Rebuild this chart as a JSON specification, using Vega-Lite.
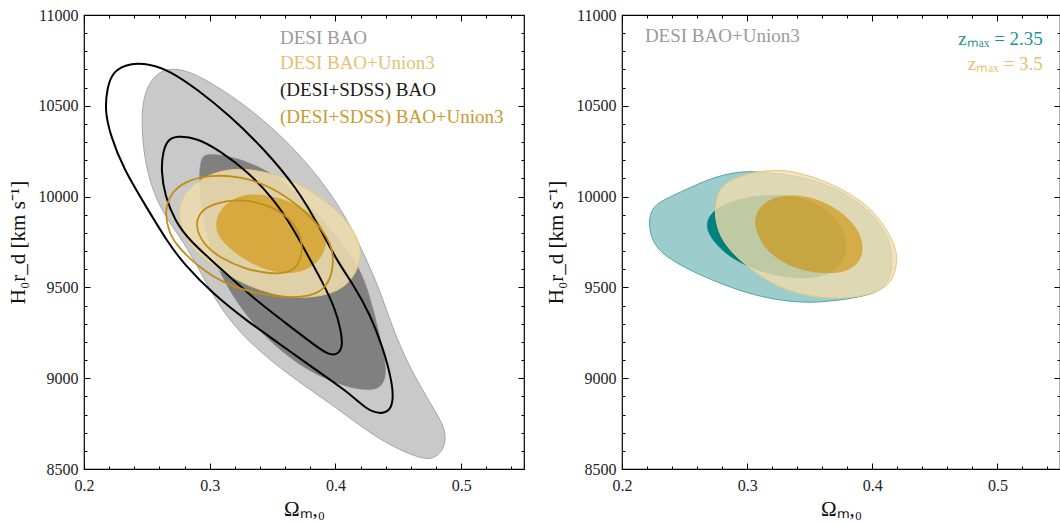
{
  "$schema": "https://vega.github.io/schema/vega-lite/v6.json",
  "background": "white",
  "padding": {"left": 6, "top": 6, "right": 2, "bottom": 0},
  "spacing": 18,
  "config": {
    "font": "Liberation Serif",
    "view": {"stroke": "#000", "strokeWidth": 1.2},
    "axis": {"domain": false, "grid": false, "labelFlush": false, "labelOverlap": false, "labelBound": false, "tickColor": "#000", "tickWidth": 1, "labelFont": "Liberation Serif", "titleFont": "Liberation Serif", "labelFontSize": 16, "titleFontSize": 21, "titleFontWeight": "normal", "labelColor": "#222", "titleColor": "#111"}
  },
  "datasets": {
    "left": [
      {"s":"A","i":0,"x":0.2684,"y":10708},{"s":"A","i":1,"x":0.2843,"y":10692},{"s":"A","i":2,"x":0.3082,"y":10598},{"s":"A","i":3,"x":0.3344,"y":10471},{"s":"A","i":4,"x":0.3615,"y":10306},{"s":"A","i":5,"x":0.3877,"y":10102},{"s":"A","i":6,"x":0.4092,"y":9882},{"s":"A","i":7,"x":0.4251,"y":9645},{"s":"A","i":8,"x":0.4347,"y":9497},{"s":"A","i":9,"x":0.4490,"y":9205},{"s":"A","i":10,"x":0.4649,"y":8984},{"s":"A","i":11,"x":0.4808,"y":8803},{"s":"A","i":12,"x":0.4880,"y":8709},{"s":"A","i":13,"x":0.4870,"y":8615},{"s":"A","i":14,"x":0.4790,"y":8555},{"s":"A","i":15,"x":0.4673,"y":8555},{"s":"A","i":16,"x":0.4355,"y":8654},{"s":"A","i":17,"x":0.4013,"y":8836},{"s":"A","i":18,"x":0.3615,"y":9023},{"s":"A","i":19,"x":0.3297,"y":9205},{"s":"A","i":20,"x":0.3082,"y":9386},{"s":"A","i":21,"x":0.2935,"y":9574},{"s":"A","i":22,"x":0.2790,"y":9755},{"s":"A","i":23,"x":0.2640,"y":9893},{"s":"A","i":24,"x":0.2530,"y":10058},{"s":"A","i":25,"x":0.2470,"y":10251},{"s":"A","i":26,"x":0.2455,"y":10471},{"s":"A","i":27,"x":0.2495,"y":10600},{"s":"A","i":28,"x":0.2581,"y":10680},
      {"s":"B","i":0,"x":0.2963,"y":10240},{"s":"B","i":1,"x":0.3162,"y":10224},{"s":"B","i":2,"x":0.3400,"y":10168},{"s":"B","i":3,"x":0.3639,"y":10058},{"s":"B","i":4,"x":0.3877,"y":9893},{"s":"B","i":5,"x":0.4076,"y":9728},{"s":"B","i":6,"x":0.4220,"y":9574},{"s":"B","i":7,"x":0.4299,"y":9386},{"s":"B","i":8,"x":0.4363,"y":9205},{"s":"B","i":9,"x":0.4403,"y":9067},{"s":"B","i":10,"x":0.4395,"y":8984},{"s":"B","i":11,"x":0.4339,"y":8940},{"s":"B","i":12,"x":0.4236,"y":8935},{"s":"B","i":13,"x":0.4092,"y":8951},{"s":"B","i":14,"x":0.3822,"y":9023},{"s":"B","i":15,"x":0.3559,"y":9150},{"s":"B","i":16,"x":0.3344,"y":9298},{"s":"B","i":17,"x":0.3162,"y":9469},{"s":"B","i":18,"x":0.3018,"y":9673},{"s":"B","i":19,"x":0.2939,"y":9893},{"s":"B","i":20,"x":0.2915,"y":10086},{"s":"B","i":21,"x":0.2925,"y":10200},
      {"s":"C","i":0,"x":0.2366,"y":10736},{"s":"C","i":1,"x":0.2525,"y":10730},{"s":"C","i":2,"x":0.2684,"y":10692},{"s":"C","i":3,"x":0.2899,"y":10592},{"s":"C","i":4,"x":0.3162,"y":10444},{"s":"C","i":5,"x":0.3424,"y":10268},{"s":"C","i":6,"x":0.3695,"y":10047},{"s":"C","i":7,"x":0.3877,"y":9827},{"s":"C","i":8,"x":0.4013,"y":9645},{"s":"C","i":9,"x":0.4140,"y":9519},{"s":"C","i":10,"x":0.4275,"y":9353},{"s":"C","i":11,"x":0.4379,"y":9166},{"s":"C","i":12,"x":0.4450,"y":8984},{"s":"C","i":13,"x":0.4462,"y":8874},{"s":"C","i":14,"x":0.4425,"y":8815},{"s":"C","i":15,"x":0.4355,"y":8805},{"s":"C","i":16,"x":0.4260,"y":8820},{"s":"C","i":17,"x":0.4092,"y":8929},{"s":"C","i":18,"x":0.3822,"y":9056},{"s":"C","i":19,"x":0.3559,"y":9188},{"s":"C","i":20,"x":0.3297,"y":9315},{"s":"C","i":21,"x":0.3026,"y":9464},{"s":"C","i":22,"x":0.2788,"y":9634},{"s":"C","i":23,"x":0.2660,"y":9755},{"s":"C","i":24,"x":0.2501,"y":9937},{"s":"C","i":25,"x":0.2310,"y":10157},{"s":"C","i":26,"x":0.2207,"y":10345},{"s":"C","i":27,"x":0.2167,"y":10471},{"s":"C","i":28,"x":0.2183,"y":10598},{"s":"C","i":29,"x":0.2231,"y":10692},
      {"s":"D","i":0,"x":0.2740,"y":10334},{"s":"D","i":1,"x":0.2899,"y":10323},{"s":"D","i":2,"x":0.3082,"y":10251},{"s":"D","i":3,"x":0.3297,"y":10141},{"s":"D","i":4,"x":0.3504,"y":9992},{"s":"D","i":5,"x":0.3663,"y":9827},{"s":"D","i":6,"x":0.3782,"y":9673},{"s":"D","i":7,"x":0.3893,"y":9535},{"s":"D","i":8,"x":0.3997,"y":9386},{"s":"D","i":9,"x":0.4045,"y":9260},{"s":"D","i":10,"x":0.4058,"y":9180},{"s":"D","i":11,"x":0.4025,"y":9132},{"s":"D","i":12,"x":0.3950,"y":9125},{"s":"D","i":13,"x":0.3822,"y":9188},{"s":"D","i":14,"x":0.3615,"y":9298},{"s":"D","i":15,"x":0.3344,"y":9442},{"s":"D","i":16,"x":0.3082,"y":9607},{"s":"D","i":17,"x":0.2843,"y":9755},{"s":"D","i":18,"x":0.2724,"y":9866},{"s":"D","i":19,"x":0.2644,"y":10003},{"s":"D","i":20,"x":0.2613,"y":10141},{"s":"D","i":21,"x":0.2628,"y":10251},{"s":"D","i":22,"x":0.2668,"y":10315},
      {"s":"E","i":0,"x":0.2740,"y":9921},{"s":"E","i":1,"x":0.2804,"y":10031},{"s":"E","i":2,"x":0.2963,"y":10113},{"s":"E","i":3,"x":0.3138,"y":10152},{"s":"E","i":4,"x":0.3360,"y":10152},{"s":"E","i":5,"x":0.3639,"y":10097},{"s":"E","i":6,"x":0.3877,"y":10003},{"s":"E","i":7,"x":0.4076,"y":9882},{"s":"E","i":8,"x":0.4180,"y":9772},{"s":"E","i":9,"x":0.4212,"y":9673},{"s":"E","i":10,"x":0.4156,"y":9563},{"s":"E","i":11,"x":0.4037,"y":9480},{"s":"E","i":12,"x":0.3822,"y":9442},{"s":"E","i":13,"x":0.3599,"y":9447},{"s":"E","i":14,"x":0.3360,"y":9491},{"s":"E","i":15,"x":0.3122,"y":9574},{"s":"E","i":16,"x":0.2923,"y":9673},{"s":"E","i":17,"x":0.2788,"y":9783},
      {"s":"F","i":0,"x":0.3042,"y":9855},{"s":"F","i":1,"x":0.3098,"y":9948},{"s":"F","i":2,"x":0.3241,"y":10009},{"s":"F","i":3,"x":0.3416,"y":10014},{"s":"F","i":4,"x":0.3639,"y":9976},{"s":"F","i":5,"x":0.3814,"y":9904},{"s":"F","i":6,"x":0.3917,"y":9811},{"s":"F","i":7,"x":0.3933,"y":9728},{"s":"F","i":8,"x":0.3862,"y":9634},{"s":"F","i":9,"x":0.3718,"y":9579},{"s":"F","i":10,"x":0.3520,"y":9579},{"s":"F","i":11,"x":0.3321,"y":9634},{"s":"F","i":12,"x":0.3162,"y":9711},{"s":"F","i":13,"x":0.3066,"y":9783},
      {"s":"G","i":0,"x":0.2644,"y":9921},{"s":"G","i":1,"x":0.2668,"y":9822},{"s":"G","i":2,"x":0.2724,"y":9739},{"s":"G","i":3,"x":0.2899,"y":9618},{"s":"G","i":4,"x":0.3162,"y":9497},{"s":"G","i":5,"x":0.3559,"y":9442},{"s":"G","i":6,"x":0.3798,"y":9447},{"s":"G","i":7,"x":0.3933,"y":9497},{"s":"G","i":8,"x":0.3989,"y":9618},{"s":"G","i":9,"x":0.3973,"y":9728},{"s":"G","i":10,"x":0.3893,"y":9822},{"s":"G","i":11,"x":0.3718,"y":9948},{"s":"G","i":12,"x":0.3480,"y":10058},{"s":"G","i":13,"x":0.3241,"y":10113},{"s":"G","i":14,"x":0.3002,"y":10119},{"s":"G","i":15,"x":0.2804,"y":10086},{"s":"G","i":16,"x":0.2684,"y":10014},
      {"s":"H","i":0,"x":0.2883,"y":9838},{"s":"H","i":1,"x":0.2923,"y":9921},{"s":"H","i":2,"x":0.3042,"y":9965},{"s":"H","i":3,"x":0.3241,"y":9987},{"s":"H","i":4,"x":0.3440,"y":9959},{"s":"H","i":5,"x":0.3599,"y":9904},{"s":"H","i":6,"x":0.3702,"y":9822},{"s":"H","i":7,"x":0.3742,"y":9728},{"s":"H","i":8,"x":0.3718,"y":9634},{"s":"H","i":9,"x":0.3639,"y":9579},{"s":"H","i":10,"x":0.3480,"y":9574},{"s":"H","i":11,"x":0.3281,"y":9601},{"s":"H","i":12,"x":0.3082,"y":9662},{"s":"H","i":13,"x":0.2947,"y":9739}
    ],
    "leftText": [
      {"x":0.3559,"y":10873,"t":"DESI BAO"},
      {"x":0.3559,"y":10736,"t":"DESI BAO+Union3"},
      {"x":0.3559,"y":10587,"t":"(DESI+SDSS) BAO"},
      {"x":0.3559,"y":10438,"t":"(DESI+SDSS) BAO+Union3"}
    ],
    "right": [
      {"s":"P","i":0,"x":0.2215,"y":9855},{"s":"P","i":1,"x":0.2231,"y":9921},{"s":"P","i":2,"x":0.2286,"y":9965},{"s":"P","i":3,"x":0.2397,"y":10003},{"s":"P","i":4,"x":0.2556,"y":10053},{"s":"P","i":5,"x":0.2755,"y":10113},{"s":"P","i":6,"x":0.2970,"y":10141},{"s":"P","i":7,"x":0.3113,"y":10135},{"s":"P","i":8,"x":0.3351,"y":10119},{"s":"P","i":9,"x":0.3550,"y":10086},{"s":"P","i":10,"x":0.3749,"y":10031},{"s":"P","i":11,"x":0.3908,"y":9959},{"s":"P","i":12,"x":0.4051,"y":9866},{"s":"P","i":13,"x":0.4138,"y":9755},{"s":"P","i":14,"x":0.4162,"y":9656},{"s":"P","i":15,"x":0.4146,"y":9546},{"s":"P","i":16,"x":0.4067,"y":9480},{"s":"P","i":17,"x":0.3908,"y":9447},{"s":"P","i":18,"x":0.3685,"y":9425},{"s":"P","i":19,"x":0.3471,"y":9414},{"s":"P","i":20,"x":0.3232,"y":9431},{"s":"P","i":21,"x":0.2994,"y":9469},{"s":"P","i":22,"x":0.2755,"y":9530},{"s":"P","i":23,"x":0.2556,"y":9590},{"s":"P","i":24,"x":0.2382,"y":9656},{"s":"P","i":25,"x":0.2286,"y":9711},{"s":"P","i":26,"x":0.2231,"y":9778},
      {"s":"Q","i":0,"x":0.2660,"y":9822},{"s":"Q","i":1,"x":0.2700,"y":9904},{"s":"Q","i":2,"x":0.2811,"y":9959},{"s":"Q","i":3,"x":0.2994,"y":9998},{"s":"Q","i":4,"x":0.3232,"y":10014},{"s":"Q","i":5,"x":0.3471,"y":9992},{"s":"Q","i":6,"x":0.3653,"y":9921},{"s":"Q","i":7,"x":0.3773,"y":9822},{"s":"Q","i":8,"x":0.3804,"y":9711},{"s":"Q","i":9,"x":0.3749,"y":9612},{"s":"Q","i":10,"x":0.3606,"y":9557},{"s":"Q","i":11,"x":0.3391,"y":9546},{"s":"Q","i":12,"x":0.3153,"y":9574},{"s":"Q","i":13,"x":0.2938,"y":9634},{"s":"Q","i":14,"x":0.2779,"y":9711},
      {"s":"R","i":0,"x":0.2739,"y":9904},{"s":"R","i":1,"x":0.2755,"y":10014},{"s":"R","i":2,"x":0.2835,"y":10086},{"s":"R","i":3,"x":0.3017,"y":10130},{"s":"R","i":4,"x":0.3232,"y":10152},{"s":"R","i":5,"x":0.3447,"y":10130},{"s":"R","i":6,"x":0.3765,"y":10047},{"s":"R","i":7,"x":0.4027,"y":9921},{"s":"R","i":8,"x":0.4186,"y":9739},{"s":"R","i":9,"x":0.4202,"y":9645},{"s":"R","i":10,"x":0.4170,"y":9546},{"s":"R","i":11,"x":0.4083,"y":9486},{"s":"R","i":12,"x":0.3908,"y":9447},{"s":"R","i":13,"x":0.3669,"y":9436},{"s":"R","i":14,"x":0.3431,"y":9458},{"s":"R","i":15,"x":0.3192,"y":9519},{"s":"R","i":16,"x":0.2994,"y":9618},{"s":"R","i":17,"x":0.2851,"y":9711},{"s":"R","i":18,"x":0.2771,"y":9800},
      {"s":"S","i":0,"x":0.3049,"y":9855},{"s":"S","i":1,"x":0.3089,"y":9937},{"s":"S","i":2,"x":0.3192,"y":9992},{"s":"S","i":3,"x":0.3351,"y":10014},{"s":"S","i":4,"x":0.3550,"y":9992},{"s":"S","i":5,"x":0.3749,"y":9921},{"s":"S","i":6,"x":0.3884,"y":9827},{"s":"S","i":7,"x":0.3932,"y":9728},{"s":"S","i":8,"x":0.3908,"y":9645},{"s":"S","i":9,"x":0.3812,"y":9590},{"s":"S","i":10,"x":0.3653,"y":9574},{"s":"S","i":11,"x":0.3431,"y":9590},{"s":"S","i":12,"x":0.3232,"y":9656},{"s":"S","i":13,"x":0.3113,"y":9739}
    ],
    "rightTextL": [
      {"x":0.2183,"y":10884,"t":"DESI BAO+Union3"}
    ],
    "rightTextR": [
      {"x":0.5363,"y":10868,"t":"zₘₐₓ = 2.35"},
      {"x":0.5363,"y":10730,"t":"zₘₐₓ = 3.5"}
    ]
  },
  "hconcat": [
    {
      "width": 440,
      "height": 454,
      "data": {"name": "left"},
      "resolve": {"axis": {"x": "independent", "y": "independent"}},
      "layer": [
        {
          "transform": [{"filter": "datum.s == 'A'"}],
          "mark": {"type": "line", "interpolate": "basis-closed", "fill": "#c9c9c9", "stroke": "#a6a6a6", "strokeWidth": 1, "clip": true},
          "encoding": {
            "x": {"field": "x", "type": "quantitative", "scale": {"domain": [0.2, 0.55], "nice": false, "zero": false}, "axis": {"orient": "bottom", "values": [0.2, 0.3, 0.4, 0.5], "format": ".1f", "ticks": false, "tickSize": 0, "labelPadding": 8, "title": "Ωₘ,₀", "titlePadding": 5}},
            "y": {"field": "y", "type": "quantitative", "scale": {"domain": [8500, 11000], "nice": false, "zero": false}, "axis": {"orient": "left", "values": [8500, 9000, 9500, 10000, 10500, 11000], "format": "d", "ticks": false, "tickSize": 0, "labelPadding": 6, "title": "H₀r_d [km s⁻¹]", "titlePadding": 10}},
            "order": {"field": "i", "type": "quantitative"}
          }
        },
        {
          "transform": [{"filter": "datum.s == 'B'"}],
          "mark": {"type": "line", "interpolate": "basis-closed", "fill": "#808080", "stroke": "#808080", "strokeWidth": 0.5, "clip": true},
          "encoding": {
            "x": {"field": "x", "type": "quantitative", "scale": {"domain": [0.2, 0.55], "nice": false, "zero": false}, "axis": {"orient": "bottom", "values": [0.2, 0.3, 0.4, 0.5], "labels": false, "tickSize": -6, "title": null}},
            "y": {"field": "y", "type": "quantitative", "scale": {"domain": [8500, 11000], "nice": false, "zero": false}, "axis": {"orient": "left", "values": [8500, 9000, 9500, 10000, 10500, 11000], "labels": false, "tickSize": -6, "title": null}},
            "order": {"field": "i", "type": "quantitative"}
          }
        },
        {
          "transform": [{"filter": "datum.s == 'E'"}],
          "mark": {"type": "line", "interpolate": "basis-closed", "fill": "#eddbac", "fillOpacity": 0.87, "stroke": "#e9c87c", "strokeWidth": 1, "clip": true},
          "encoding": {
            "x": {"field": "x", "type": "quantitative", "scale": {"domain": [0.2, 0.55], "nice": false, "zero": false}, "axis": {"orient": "bottom", "values": [0.22, 0.24, 0.26, 0.28, 0.32, 0.34, 0.36, 0.38, 0.42, 0.44, 0.46, 0.48, 0.52, 0.54], "labels": false, "tickSize": -3, "title": null}},
            "y": {"field": "y", "type": "quantitative", "scale": {"domain": [8500, 11000], "nice": false, "zero": false}, "axis": {"orient": "left", "values": [8600, 8700, 8800, 8900, 9100, 9200, 9300, 9400, 9600, 9700, 9800, 9900, 10100, 10200, 10300, 10400, 10600, 10700, 10800, 10900], "labels": false, "tickSize": -3, "title": null}},
            "order": {"field": "i", "type": "quantitative"}
          }
        },
        {
          "transform": [{"filter": "datum.s == 'F'"}],
          "mark": {"type": "line", "interpolate": "basis-closed", "fill": "#d6a535", "fillOpacity": 0.9, "stroke": "#d6a535", "strokeWidth": 0.5, "clip": true},
          "encoding": {
            "x": {"field": "x", "type": "quantitative", "scale": {"domain": [0.2, 0.55], "nice": false, "zero": false}, "axis": {"orient": "top", "values": [0.2, 0.3, 0.4, 0.5], "labels": false, "tickSize": -6, "title": null}},
            "y": {"field": "y", "type": "quantitative", "scale": {"domain": [8500, 11000], "nice": false, "zero": false}, "axis": {"orient": "right", "values": [8500, 9000, 9500, 10000, 10500, 11000], "labels": false, "tickSize": -6, "title": null}},
            "order": {"field": "i", "type": "quantitative"}
          }
        },
        {
          "transform": [{"filter": "datum.s == 'C'"}],
          "mark": {"type": "line", "interpolate": "basis-closed", "stroke": "#000", "strokeWidth": 2, "clip": true},
          "encoding": {
            "x": {"field": "x", "type": "quantitative", "scale": {"domain": [0.2, 0.55], "nice": false, "zero": false}, "axis": {"orient": "top", "values": [0.22, 0.24, 0.26, 0.28, 0.32, 0.34, 0.36, 0.38, 0.42, 0.44, 0.46, 0.48, 0.52, 0.54], "labels": false, "tickSize": -3, "title": null}},
            "y": {"field": "y", "type": "quantitative", "scale": {"domain": [8500, 11000], "nice": false, "zero": false}, "axis": {"orient": "right", "values": [8600, 8700, 8800, 8900, 9100, 9200, 9300, 9400, 9600, 9700, 9800, 9900, 10100, 10200, 10300, 10400, 10600, 10700, 10800, 10900], "labels": false, "tickSize": -3, "title": null}},
            "order": {"field": "i", "type": "quantitative"}
          }
        },
        {
          "transform": [{"filter": "datum.s == 'D'"}],
          "mark": {"type": "line", "interpolate": "basis-closed", "stroke": "#000", "strokeWidth": 2, "clip": true},
          "encoding": {
            "x": {"field": "x", "type": "quantitative", "scale": {"domain": [0.2, 0.55], "nice": false, "zero": false}, "axis": null},
            "y": {"field": "y", "type": "quantitative", "scale": {"domain": [8500, 11000], "nice": false, "zero": false}, "axis": null},
            "order": {"field": "i", "type": "quantitative"}
          }
        },
        {
          "transform": [{"filter": "datum.s == 'G' || datum.s == 'H'"}],
          "mark": {"type": "line", "interpolate": "basis-closed", "stroke": "#c18e14", "strokeWidth": 1.8, "clip": true},
          "encoding": {
            "x": {"field": "x", "type": "quantitative", "scale": {"domain": [0.2, 0.55], "nice": false, "zero": false}, "axis": null},
            "y": {"field": "y", "type": "quantitative", "scale": {"domain": [8500, 11000], "nice": false, "zero": false}, "axis": null},
            "detail": {"field": "s", "type": "nominal"},
            "order": {"field": "i", "type": "quantitative"}
          }
        },
        {
          "data": {"name": "leftText"},
          "mark": {"type": "text", "align": "left", "baseline": "middle", "fontSize": 19, "font": "Liberation Serif"},
          "encoding": {
            "x": {"field": "x", "type": "quantitative", "scale": {"domain": [0.2, 0.55], "nice": false, "zero": false}, "axis": null},
            "y": {"field": "y", "type": "quantitative", "scale": {"domain": [8500, 11000], "nice": false, "zero": false}, "axis": null},
            "text": {"field": "t"},
            "color": {"field": "t", "type": "nominal", "legend": null, "scale": {"domain": ["DESI BAO", "DESI BAO+Union3", "(DESI+SDSS) BAO", "(DESI+SDSS) BAO+Union3"], "range": ["#9a9a9a", "#e8c070", "#1a1a1a", "#c89b2e"]}}
          }
        }
      ]
    },
    {
      "width": 438,
      "height": 454,
      "data": {"name": "right"},
      "resolve": {"axis": {"x": "independent", "y": "independent"}, "scale": {"color": "independent"}},
      "layer": [
        {
          "transform": [{"filter": "datum.s == 'P'"}],
          "mark": {"type": "line", "interpolate": "basis-closed", "fill": "#9ccccc", "stroke": "#4fa6a6", "strokeWidth": 1, "clip": true},
          "encoding": {
            "x": {"field": "x", "type": "quantitative", "scale": {"domain": [0.2, 0.55], "nice": false, "zero": false}, "axis": {"orient": "bottom", "values": [0.2, 0.3, 0.4, 0.5], "format": ".1f", "ticks": false, "tickSize": 0, "labelPadding": 8, "title": "Ωₘ,₀", "titlePadding": 5}},
            "y": {"field": "y", "type": "quantitative", "scale": {"domain": [8500, 11000], "nice": false, "zero": false}, "axis": {"orient": "left", "values": [8500, 9000, 9500, 10000, 10500, 11000], "format": "d", "ticks": false, "tickSize": 0, "labelPadding": 6, "title": "H₀r_d [km s⁻¹]", "titlePadding": 10}},
            "order": {"field": "i", "type": "quantitative"}
          }
        },
        {
          "transform": [{"filter": "datum.s == 'Q'"}],
          "mark": {"type": "line", "interpolate": "basis-closed", "fill": "#008080", "stroke": "#008080", "strokeWidth": 0.5, "clip": true},
          "encoding": {
            "x": {"field": "x", "type": "quantitative", "scale": {"domain": [0.2, 0.55], "nice": false, "zero": false}, "axis": {"orient": "bottom", "values": [0.2, 0.3, 0.4, 0.5], "labels": false, "tickSize": -6, "title": null}},
            "y": {"field": "y", "type": "quantitative", "scale": {"domain": [8500, 11000], "nice": false, "zero": false}, "axis": {"orient": "left", "values": [8500, 9000, 9500, 10000, 10500, 11000], "labels": false, "tickSize": -6, "title": null}},
            "order": {"field": "i", "type": "quantitative"}
          }
        },
        {
          "transform": [{"filter": "datum.s == 'R'"}],
          "mark": {"type": "line", "interpolate": "basis-closed", "fill": "#efdcae", "fillOpacity": 0.8, "stroke": "#e9c87c", "strokeWidth": 1, "clip": true},
          "encoding": {
            "x": {"field": "x", "type": "quantitative", "scale": {"domain": [0.2, 0.55], "nice": false, "zero": false}, "axis": {"orient": "bottom", "values": [0.22, 0.24, 0.26, 0.28, 0.32, 0.34, 0.36, 0.38, 0.42, 0.44, 0.46, 0.48, 0.52, 0.54], "labels": false, "tickSize": -3, "title": null}},
            "y": {"field": "y", "type": "quantitative", "scale": {"domain": [8500, 11000], "nice": false, "zero": false}, "axis": {"orient": "left", "values": [8600, 8700, 8800, 8900, 9100, 9200, 9300, 9400, 9600, 9700, 9800, 9900, 10100, 10200, 10300, 10400, 10600, 10700, 10800, 10900], "labels": false, "tickSize": -3, "title": null}},
            "order": {"field": "i", "type": "quantitative"}
          }
        },
        {
          "transform": [{"filter": "datum.s == 'S'"}],
          "mark": {"type": "line", "interpolate": "basis-closed", "fill": "#cd8e00", "fillOpacity": 0.6, "stroke": "#cd8e00", "strokeOpacity": 0.3, "strokeWidth": 0.5, "clip": true},
          "encoding": {
            "x": {"field": "x", "type": "quantitative", "scale": {"domain": [0.2, 0.55], "nice": false, "zero": false}, "axis": {"orient": "top", "values": [0.2, 0.3, 0.4, 0.5], "labels": false, "tickSize": -6, "title": null}},
            "y": {"field": "y", "type": "quantitative", "scale": {"domain": [8500, 11000], "nice": false, "zero": false}, "axis": {"orient": "right", "values": [8500, 9000, 9500, 10000, 10500, 11000], "labels": false, "tickSize": -6, "title": null}},
            "order": {"field": "i", "type": "quantitative"}
          }
        },
        {
          "data": {"name": "rightTextL"},
          "mark": {"type": "text", "align": "left", "baseline": "middle", "fontSize": 19, "font": "Liberation Serif", "color": "#9a9a9a"},
          "encoding": {
            "x": {"field": "x", "type": "quantitative", "scale": {"domain": [0.2, 0.55], "nice": false, "zero": false}, "axis": {"orient": "top", "values": [0.22, 0.24, 0.26, 0.28, 0.32, 0.34, 0.36, 0.38, 0.42, 0.44, 0.46, 0.48, 0.52, 0.54], "labels": false, "tickSize": -3, "title": null}},
            "y": {"field": "y", "type": "quantitative", "scale": {"domain": [8500, 11000], "nice": false, "zero": false}, "axis": {"orient": "right", "values": [8600, 8700, 8800, 8900, 9100, 9200, 9300, 9400, 9600, 9700, 9800, 9900, 10100, 10200, 10300, 10400, 10600, 10700, 10800, 10900], "labels": false, "tickSize": -3, "title": null}},
            "text": {"field": "t"}
          }
        },
        {
          "data": {"name": "rightTextR"},
          "mark": {"type": "text", "align": "right", "baseline": "middle", "fontSize": 19, "font": "Liberation Serif"},
          "encoding": {
            "x": {"field": "x", "type": "quantitative", "scale": {"domain": [0.2, 0.55], "nice": false, "zero": false}, "axis": null},
            "y": {"field": "y", "type": "quantitative", "scale": {"domain": [8500, 11000], "nice": false, "zero": false}, "axis": null},
            "text": {"field": "t"},
            "color": {"field": "t", "type": "nominal", "legend": null, "scale": {"domain": ["zₘₐₓ = 2.35", "zₘₐₓ = 3.5"], "range": ["#1f9393", "#e8c070"]}}
          }
        }
      ]
    }
  ]
}
